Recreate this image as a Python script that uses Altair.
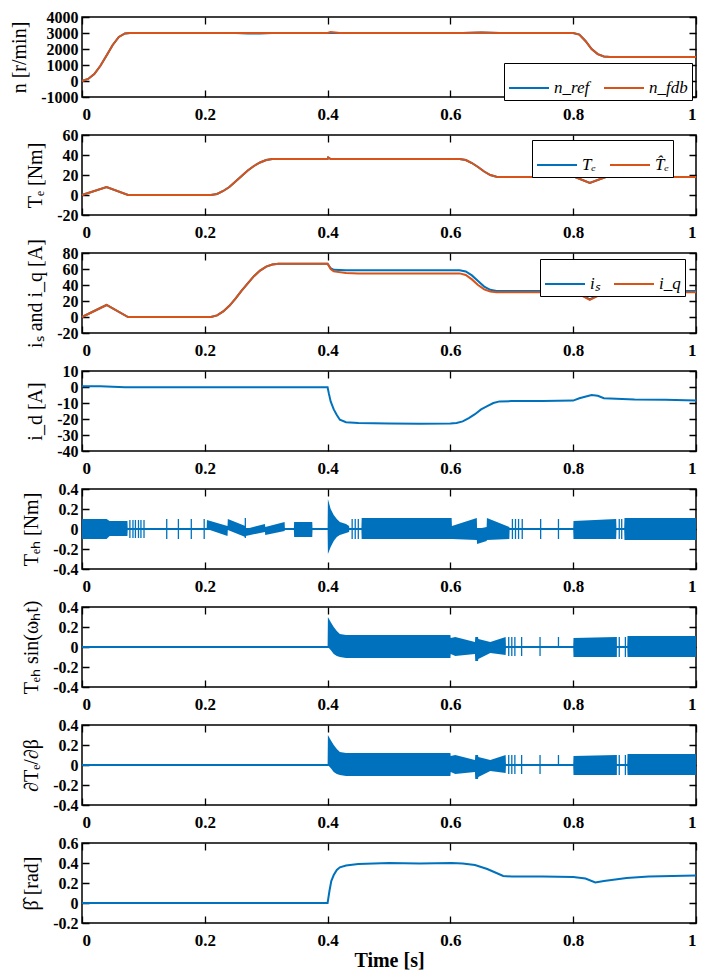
import altair as alt
import pandas as pd

BLUE = "#0072BD"
ORANGE = "#D95319"
W, H = 614, 80
FONT = "Liberation Serif"

x_ticks = [0, 0.2, 0.4, 0.6, 0.8, 1]

# ---------- panel 1: speed ----------
n_t = [0, 0.01, 0.02, 0.03, 0.04, 0.05, 0.06, 0.07, 0.078, 0.25, 0.27, 0.29, 0.31,
       0.40, 0.405, 0.42, 0.62, 0.65, 0.68, 0.80, 0.81, 0.82, 0.83, 0.84, 0.85, 0.86, 1.0]
n_ref = [0, 130, 430, 950, 1600, 2250, 2750, 2970, 3000, 3000, 2965, 2965, 3000,
         3000, 3000, 3000, 3000, 3030, 3000, 3000, 2900, 2500, 2000, 1680, 1530, 1500, 1500]
n_fdb = [0, 130, 430, 950, 1600, 2250, 2750, 2970, 3000, 3000, 3000, 3000, 3000,
         3000, 3060, 3000, 3000, 3030, 3000, 3000, 2900, 2500, 2000, 1680, 1530, 1500, 1500]

# ---------- panel 2: torque ----------
te_t = [0, 0.04, 0.075, 0.21, 0.22, 0.23, 0.24, 0.25, 0.26, 0.27, 0.28, 0.29, 0.30, 0.31,
        0.40, 0.401, 0.405, 0.41, 0.615, 0.625, 0.635, 0.645, 0.655, 0.665, 0.675, 0.68,
        0.803, 0.827, 0.853, 1.0]
te_ref = [0, 8, 0, 0, 1, 4, 8, 13.5, 19, 24.5, 29, 32.5, 35, 36,
          36, 37.5, 36, 36, 36, 35, 32, 28, 23.5, 20, 18.3, 18,
          18, 12, 18, 18]
te_est = [0, 8, 0, 0, 1, 4, 8, 13.5, 19, 24.5, 29, 32.5, 35, 36,
          36, 37.5, 36, 36, 36, 35, 32, 28, 23.5, 20, 18.3, 18,
          18, 12, 18, 18]

# ---------- panel 3: i_s and i_q ----------
i_t = [0, 0.04, 0.075, 0.21, 0.22, 0.23, 0.24, 0.25, 0.26, 0.27, 0.28, 0.29, 0.30, 0.31, 0.32,
       0.40, 0.405, 0.41, 0.43, 0.45, 0.615, 0.625, 0.635, 0.645, 0.655, 0.665, 0.675, 0.685,
       0.803, 0.827, 0.853, 1.0]
i_s = [0, 15, 0, 0, 2, 7, 14, 23, 33, 42, 51, 58, 63, 65.5, 66.5,
       66.5, 61, 59, 58.5, 58.5, 58.5, 57, 52, 45, 38, 34, 32.5, 32.5,
       32.5, 22, 32.5, 32.5]
i_q = [0, 15, 0, 0, 2, 7, 14, 23, 33, 42, 51, 58, 63, 65.5, 66.5,
       66.5, 60, 57, 55, 54.5, 54.5, 52.5, 47, 40, 34.5, 32, 31, 31,
       31, 21.5, 31, 31]

# ---------- panel 4: i_d ----------
id_t = [0, 0.03, 0.07, 0.40, 0.402, 0.405, 0.41, 0.415, 0.42, 0.43, 0.45, 0.5, 0.55, 0.6,
        0.61, 0.62, 0.63, 0.64, 0.65, 0.66, 0.67, 0.68, 0.7, 0.75, 0.8, 0.81, 0.83, 0.84,
        0.85, 0.9, 0.95, 1.0]
id_v = [0.5, 0.5, -0.2, -0.2, -4, -9, -14, -17.5, -20.5, -22, -22.5, -22.8, -23, -22.8,
        -22.5, -21.5, -19.5, -17, -14, -12, -10, -9, -8.8, -8.7, -8.5, -7, -5, -5.5,
        -7, -7.8, -8, -8.5]

# ---------- panel 5: T_eh envelope ----------
teh_t = [0.0, 0.04, 0.045, 0.074, 0.0745, 0.203, 0.2035, 0.237, 0.2375, 0.266, 0.2665, 0.298,
         0.2985, 0.33, 0.3305, 0.345, 0.3455, 0.375, 0.3755, 0.400, 0.4005, 0.405, 0.41, 0.415,
         0.42, 0.43, 0.435, 0.4355, 0.455, 0.4555, 0.602, 0.6025, 0.643, 0.6435, 0.659, 0.6595,
         0.696, 0.6965, 0.80, 0.8005, 0.87, 0.8705, 0.883, 0.8835, 1.0]
teh_lo = [-0.10, -0.10, -0.07, -0.07, 0, 0, 0.0, -0.07, -0.01, -0.08, -0.07, -0.03,
          -0.06, -0.02, 0, 0, -0.08, -0.08, 0, 0, -0.25, -0.18, -0.12, -0.08,
          -0.06, -0.04, -0.03, 0, 0, -0.10, -0.10, -0.10, -0.11, -0.15, -0.12, -0.11,
          -0.10, 0, 0, -0.10, -0.10, 0, 0, -0.11, -0.11]
teh_hi = [0.10, 0.10, 0.08, 0.08, 0, 0, 0.09, 0.03, 0.10, 0.03, 0.00, 0.05,
          0.02, 0.07, 0, 0, 0.07, 0.07, 0, 0, 0.30, 0.20, 0.14, 0.10,
          0.07, 0.05, 0.03, 0, 0, 0.11, 0.11, 0.03, 0.11, 0.0, 0.02, 0.11,
          0.02, 0, 0, 0.08, 0.10, 0, 0, 0.11, 0.11]
teh_sp_t = [0.078, 0.083, 0.087, 0.092, 0.096, 0.101, 0.138, 0.157, 0.178, 0.199, 0.266,
            0.44, 0.445, 0.45, 0.701, 0.706, 0.711, 0.717, 0.747, 0.776, 0.875, 0.879]
teh_sp_lo = [-0.09, -0.09, -0.09, -0.09, -0.09, -0.09, -0.1, -0.1, -0.1, -0.1, -0.09,
             -0.1, -0.1, -0.1, -0.1, -0.1, -0.1, -0.1, -0.1, -0.1, -0.1, -0.1]
teh_sp_hi = [0.09, 0.09, 0.09, 0.09, 0.09, 0.09, 0.1, 0.1, 0.1, 0.1, 0.11,
             0.1, 0.1, 0.1, 0.1, 0.1, 0.1, 0.1, 0.1, 0.1, 0.1, 0.1]

# ---------- panels 6/7: T_eh sin(w_h t) and dTe/dbeta envelope ----------
hs_t = [0.0, 0.400, 0.4005, 0.405, 0.41, 0.415, 0.42, 0.43, 0.60, 0.6005, 0.608, 0.64,
        0.6405, 0.645, 0.6455, 0.665, 0.69, 0.6905, 0.80, 0.8005, 0.87, 0.8705, 0.888,
        0.8885, 1.0]
hs_lo = [0, 0, 0.0, -0.03, -0.07, -0.09, -0.10, -0.11, -0.11, -0.07, -0.09, -0.07,
         -0.14, -0.14, -0.12, -0.06, -0.08, 0, 0, -0.10, -0.10, 0, 0,
         -0.10, -0.10]
hs_hi = [0, 0, 0.30, 0.25, 0.20, 0.16, 0.13, 0.12, 0.12, 0.09, 0.10, 0.05,
         0.10, 0.10, 0.08, 0.05, 0.10, 0, 0, 0.09, 0.10, 0, 0,
         0.11, 0.11]
hs_sp_t = [0.695, 0.700, 0.705, 0.716, 0.746, 0.776, 0.870, 0.875, 0.885]
hs_sp_lo = [-0.09, -0.09, -0.09, -0.09, -0.09, 0.0, -0.1, -0.1, -0.1]
hs_sp_hi = [0.1, 0.1, 0.1, 0.1, 0.1, 0.1, 0.1, 0.1, 0.1]

# ---------- panel 8: beta hat ----------
b_t = [0, 0.400, 0.403, 0.406, 0.41, 0.415, 0.42, 0.43, 0.45, 0.5, 0.55, 0.602, 0.62,
       0.64, 0.66, 0.675, 0.686, 0.7, 0.75, 0.8, 0.82, 0.836, 0.85, 0.887, 0.923, 1.0]
b_v = [0, 0, 0.12, 0.22, 0.28, 0.33, 0.357, 0.375, 0.39, 0.4, 0.395, 0.4, 0.395,
       0.38, 0.34, 0.3, 0.27, 0.265, 0.265, 0.26, 0.245, 0.205, 0.22, 0.25, 0.265, 0.275]

LABEL_EXPR = "replace(format(datum.value, '~g'), '\u2212', '-')"
AXF = dict(labelFont=FONT, labelFontWeight="bold", labelColor="black",
           labelOverlap=False, titleFont=FONT, titleColor="black")


def xenc(title=None):
    ax = dict(values=x_ticks, labelExpr=LABEL_EXPR, gridDash=[7, H - 14, 7],
              labelPadding=9, labelFontSize=17, **AXF)
    if title:
        ax.update(title=title, titleFontWeight="bold", titleFontSize=20, titlePadding=2)
    else:
        ax.update(title=None)
    return alt.X("t:Q", scale=alt.Scale(domain=[0, 1], nice=False, zero=False),
                 axis=alt.Axis(**ax))


def yenc(field, domain, ticks, title):
    return alt.Y(field, scale=alt.Scale(domain=domain, nice=False, zero=False),
                 axis=alt.Axis(values=ticks, labelExpr=LABEL_EXPR, title=title,
                               gridDash=[7, W - 14, 7], labelPadding=4, titlePadding=11,
                               labelFontSize=16, titleFontWeight="normal",
                               titleFontSize=20, **AXF))


def legend(x, y):
    return alt.Legend(orient="none", legendX=x, legendY=y, direction="horizontal",
                      columns=2, title=None, symbolType="stroke", symbolSize=1600,
                      symbolStrokeWidth=2, labelFont=FONT, labelFontStyle="italic",
                      labelFontSize=17, labelColor="black", labelOffset=4,
                      strokeColor="black", fillColor="white", padding=4,
                      columnPadding=10, symbolOpacity=1)


def two_series(t, a, b, names, domain, ticks, title, lx, ly):
    scale = alt.Scale(domain=names, range=[BLUE, ORANGE])
    da = pd.DataFrame({"t": t, "v": a, "s": names[0]})
    db = pd.DataFrame({"t": t, "v": b, "s": names[1]})
    col = alt.Color("s:N", scale=scale, legend=legend(lx, ly))
    la = alt.Chart(da).mark_line(strokeWidth=2).encode(
        x=xenc(), y=yenc("v:Q", domain, ticks, title), color=col)
    lb = alt.Chart(db).mark_line(strokeWidth=2).encode(
        x=xenc(), y=yenc("v:Q", domain, ticks, title), color=col)
    return alt.layer(la, lb).properties(width=W, height=H)


def single(t, v, domain, ticks, title, xtitle=None):
    d = pd.DataFrame({"t": t, "v": v})
    return alt.Chart(d).mark_line(strokeWidth=2, color=BLUE).encode(
        x=xenc(xtitle), y=yenc("v:Q", domain, ticks, title)).properties(width=W, height=H)


def noisy(et, elo, ehi, st, slo, shi, title):
    dom = [-0.4, 0.4]
    tk = [-0.4, -0.2, 0, 0.2, 0.4]
    base = pd.DataFrame({"t": [0, 1], "v": [0, 0]})
    env = pd.DataFrame({"t": et, "lo": elo, "hi": ehi})
    sp = pd.DataFrame({"t": st, "lo": slo, "hi": shi})
    l0 = alt.Chart(base).mark_line(strokeWidth=2, color=BLUE).encode(
        x=xenc(), y=yenc("v:Q", dom, tk, title))
    l1 = alt.Chart(env).mark_area(color=BLUE, opacity=1).encode(
        x=xenc(), y=yenc("lo:Q", dom, tk, title), y2="hi:Q")
    l2 = alt.Chart(sp).mark_rule(color=BLUE, strokeWidth=1.3).encode(
        x=xenc(), y=yenc("lo:Q", dom, tk, title), y2="hi:Q")
    return alt.layer(l0, l1, l2).properties(width=W, height=H)


p1 = two_series(n_t, n_ref, n_fdb, ["n_ref", "n_fdb"], [-1000, 4000],
                [-1000, 0, 1000, 2000, 3000, 4000], "n [r/min]", 422, 46)
p2 = two_series(te_t, te_ref, te_est, ["T\u2091", "T\u0302\u2091"], [-20, 60],
                [-20, 0, 20, 40, 60], "T\u2091 [Nm]", 450, 5)
p3 = two_series(i_t, i_s, i_q, ["i\u209b", "i_q"], [-20, 80],
                [-20, 0, 20, 40, 60, 80], "i\u209b and i_q [A]", 458, 6)
p4 = single(id_t, id_v, [-40, 10], [-40, -30, -20, -10, 0, 10], "i_d [A]")
p5 = noisy(teh_t, teh_lo, teh_hi, teh_sp_t, teh_sp_lo, teh_sp_hi, "T\u2091\u2095 [Nm]")
p6 = noisy(hs_t, hs_lo, hs_hi, hs_sp_t, hs_sp_lo, hs_sp_hi, "T\u2091\u2095 sin(\u03c9\u2095t)")
p7 = noisy(hs_t, hs_lo, hs_hi, hs_sp_t, hs_sp_lo, hs_sp_hi, "\u2202T\u2091/\u2202\u03b2")
p8 = single(b_t, b_v, [-0.2, 0.6], [-0.2, 0, 0.2, 0.4, 0.6], "\u03b2\u0302 [rad]",
            xtitle="Time [s]")

chart = alt.vconcat(p1, p2, p3, p4, p5, p6, p7, p8, spacing=38, bounds="flush").resolve_scale(
    color="independent").resolve_legend(color="independent").properties(
    padding={"left": 0, "top": 0, "right": -3, "bottom": 0}
).configure_view(stroke="black", strokeWidth=1.5).configure_axis(
    labelFont=FONT, labelFontWeight="bold", labelFontSize=17, labelColor="black",
    titleFont=FONT, titleFontWeight="normal", titleFontSize=20, titleColor="black",
    domain=False, ticks=False, tickSize=0, grid=True, gridColor="black",
    gridOpacity=1, gridWidth=1.3, labelOverlap=False
)

chart.save("out.html", embed_options={"renderer": "svg", "actions": False})
